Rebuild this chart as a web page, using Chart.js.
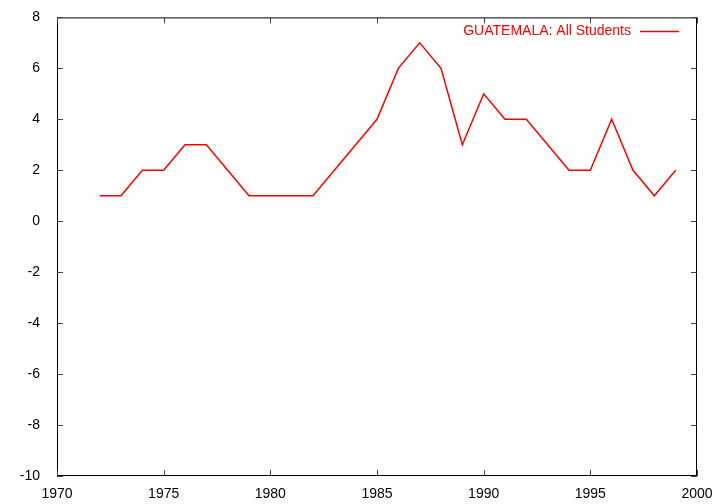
<!DOCTYPE html>
<html>
<head>
<meta charset="utf-8">
<script src="https://cdn.jsdelivr.net/npm/chart.js@4/dist/chart.umd.min.js"></script>
<style>
  html, body { margin: 0; padding: 0; background: #fff; }
  #wrap { width: 720px; height: 504px; }
</style>
</head>
<body>
<div id="wrap"><canvas id="c" width="720" height="504"></canvas></div>
<script>
const years = [1972, 1973, 1974, 1975, 1976, 1977, 1978, 1979, 1980, 1981, 1982, 1983, 1984, 1985,
  1986, 1987, 1988, 1989, 1990, 1991, 1992, 1993, 1994, 1995, 1996, 1997, 1998, 1999];
const allStudents = [1, 1, 2, 2, 3, 3, 2, 1, 1, 1, 1, 2, 3, 4,
  6, 7, 6, 3, 5, 4, 4, 3, 2, 2, 4, 2, 1, 2];
const seriesLabel = "GUATEMALA: All Students";
const xTicks = [1970, 1975, 1980, 1985, 1990, 1995, 2000];
const yTicks = [-10, -8, -6, -4, -2, 0, 2, 4, 6, 8];

const FONT = "Liberation Sans, Arial, Helvetica, sans-serif";
const FONT_SIZE = 14;

// gnuplot style: ticks pointing inward, mirrored on opposite sides, legend top-right
const frame = {
  id: "frame",
  afterDraw(chart) {
    const { ctx, chartArea: a, scales } = chart;
    const len = 6;
    ctx.save();
    ctx.strokeStyle = "#000";
    ctx.lineWidth = 1;
    ctx.strokeRect(a.left + 0.5, a.top + 0.5, a.right - a.left - 1, a.bottom - a.top - 1);
    ctx.strokeStyle = "#444";
    ctx.beginPath();
    xTicks.forEach((v) => {
      const x = Math.round(scales.x.getPixelForValue(v)) + 0.5;
      ctx.moveTo(x, a.bottom); ctx.lineTo(x, a.bottom - len);
      ctx.moveTo(x, a.top); ctx.lineTo(x, a.top + len);
    });
    yTicks.forEach((v) => {
      const y = Math.round(scales.y.getPixelForValue(v)) + 0.5;
      ctx.moveTo(a.left, y); ctx.lineTo(a.left + len, y);
      ctx.moveTo(a.right, y); ctx.lineTo(a.right - len, y);
    });
    ctx.stroke();

    // legend
    const ly = a.top + 14;
    const lineR = a.right - 18, lineL = lineR - 39;
    ctx.font = FONT_SIZE + "px " + FONT;
    ctx.fillStyle = "#ff0000";
    ctx.textAlign = "right";
    ctx.textBaseline = "middle";
    ctx.fillText(seriesLabel, lineL - 9, ly);
    ctx.strokeStyle = "#ff0000";
    ctx.lineWidth = 1.5;
    ctx.beginPath();
    ctx.moveTo(lineL, ly); ctx.lineTo(lineR, ly);
    ctx.stroke();
    ctx.restore();
  }
};

new Chart(document.getElementById("c"), {
  type: "line",
  data: {
    labels: years,
    datasets: [{
      label: seriesLabel,
      data: years.map((y, i) => ({ x: y, y: allStudents[i] })),
      borderColor: "#ff0000",
      borderWidth: 1.5,
      pointRadius: 0,
      tension: 0,
      fill: false,
    }],
  },
  options: {
    responsive: false,
    animation: false,
    devicePixelRatio: 1,
    layout: { padding: { top: 16, right: 23, left: 0, bottom: 0 } },
    plugins: { legend: { display: false }, tooltip: { enabled: false } },
    scales: {
      x: {
        type: "linear",
        min: 1970, max: 2000,
        afterBuildTicks: (s) => { s.ticks = xTicks.map((v) => ({ value: v })); },
        afterFit: (s) => { s.height = 28; },
        grid: { display: false },
        border: { display: false },
        ticks: { color: "#000", font: { family: FONT, size: FONT_SIZE }, padding: 2, maxRotation: 0,
          callback: (v) => String(v) },
      },
      y: {
        min: -10, max: 8,
        afterBuildTicks: (s) => { s.ticks = yTicks.map((v) => ({ value: v })); },
        afterFit: (s) => { s.width = 57; },
        grid: { display: false },
        border: { display: false },
        ticks: { color: "#000", font: { family: FONT, size: FONT_SIZE }, padding: 9 },
      },
    },
  },
  plugins: [frame],
});
</script>
</body>
</html>
